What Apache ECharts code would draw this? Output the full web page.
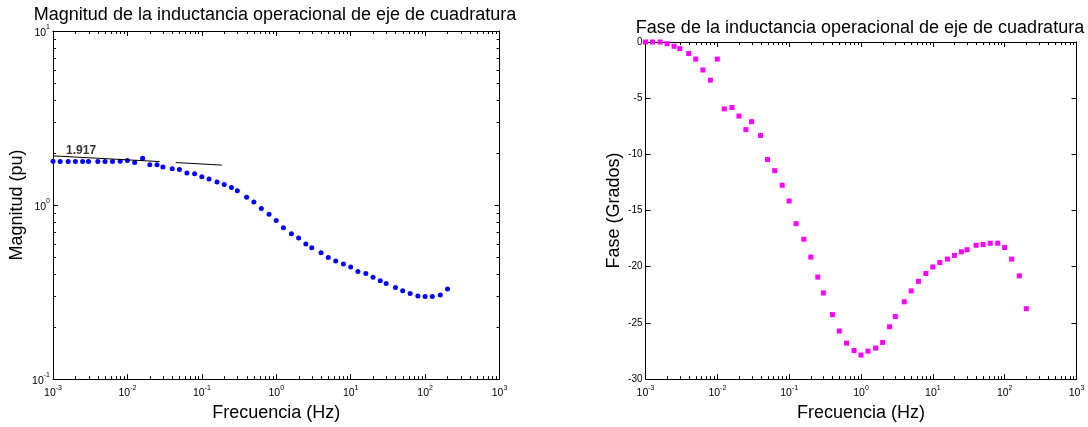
<!DOCTYPE html>
<html><head><meta charset="utf-8">
<script src="https://cdn.jsdelivr.net/npm/echarts@6/dist/echarts.min.js"></script>
<style>html,body{margin:0;padding:0;background:#fff}#c{width:1088px;height:427px}</style>
</head><body><div id="c"></div>
<script>
// ---- data ----
const freq = [0.001, 0.00125, 0.0016, 0.002, 0.0025, 0.003, 0.004, 0.005, 0.0063, 0.008,
  0.01, 0.0125, 0.016, 0.02, 0.025, 0.03, 0.04, 0.05, 0.063, 0.08,
  0.1, 0.125, 0.16, 0.2, 0.25, 0.3, 0.4, 0.5, 0.63, 0.8,
  1, 1.25, 1.6, 2, 2.5, 3, 4, 5, 6.3, 8,
  10, 12.5, 16, 20, 25, 30, 40, 50, 63, 80,
  100, 125, 160, 200];
const magnitude = [1.788, 1.778, 1.778, 1.778, 1.778, 1.778, 1.778, 1.778, 1.778, 1.788,
  1.802, 1.755, 1.859, 1.703, 1.703, 1.653, 1.616, 1.602, 1.528, 1.514,
  1.455, 1.413, 1.358, 1.311, 1.260, 1.207, 1.110, 1.040, 0.954, 0.886,
  0.815, 0.740, 0.684, 0.647, 0.598, 0.568, 0.532, 0.500, 0.477, 0.459,
  0.441, 0.415, 0.404, 0.385, 0.367, 0.354, 0.336, 0.322, 0.310, 0.300,
  0.298, 0.298, 0.304, 0.329];
const phase = [0, 0, 0, -0.15, -0.38, -0.59, -1.03, -1.52, -2.49, -3.40,
  -1.52, -5.95, -5.83, -6.59, -7.80, -7.09, -8.32, -10.46, -11.45, -12.75,
  -14.15, -16.17, -17.55, -19.14, -20.92, -22.33, -24.26, -25.72, -26.80, -27.45,
  -27.86, -27.51, -27.24, -26.74, -25.34, -24.43, -23.12, -22.15, -21.30, -20.60,
  -20.02, -19.63, -19.32, -18.99, -18.67, -18.49, -18.09, -18.02, -17.91, -17.91,
  -18.29, -19.32, -20.81, -23.73];
const refLine1F = [0.001, 0.0269];
const refLine1M = [1.917, 1.778];
const refLine2F = [0.0446, 0.185];
const refLine2M = [1.755, 1.696];
const annotText = '1.917';
const annotF = [0.0015];
const annotM = [2.05];
const leftTitle = 'Magnitud de la inductancia operacional de eje de cuadratura';
const rightTitle = 'Fase de la inductancia operacional de eje de cuadratura';
const xName = 'Frecuencia (Hz)';
const yNameLeft = 'Magnitud (pu)';
const yNameRight = 'Fase (Grados)';
const freqRange = [0.001, 1000];
const magRange = [0.1, 10];
const phaseRange = [-30, 0];
const phaseStep = 5;

// ---- helpers ----
const FONT = '"Liberation Sans", Arial, sans-serif';
function pow10Label(v) {
  const e = Math.round(Math.log10(v));
  return '{b|10}{s|' + e + '}';
}
const richSup = {
  b: {fontSize: 10.5, fontFamily: FONT, color: '#000', verticalAlign: 'bottom', lineHeight: 15},
  s: {fontSize: 7, fontFamily: FONT, color: '#000', verticalAlign: 'top', lineHeight: 15}
};
function minorList(lo, hi) {
  const out = [];
  for (let e = Math.round(Math.log10(lo)); e < Math.round(Math.log10(hi)); e++) {
    for (let k = 2; k <= 9; k++) out.push(k * Math.pow(10, e));
  }
  return out;
}
const pair = (a, b) => a.map((v, i) => [v, b[i]]);
const tickStyle = {stroke: '#000', lineWidth: 1};
const ML = 3;
function xMinorRender(params, api) {
  const cs = params.coordSys;
  const x = Math.round(api.coord([api.value(0), api.value(1)])[0]) + 0.5;
  const b = cs.y + cs.height, t = cs.y;
  return {type: 'group', children: [
    {type: 'line', shape: {x1: x, y1: b, x2: x, y2: b - ML}, style: tickStyle},
    {type: 'line', shape: {x1: x, y1: t, x2: x, y2: t + ML}, style: tickStyle}
  ]};
}
function yMinorRender(params, api) {
  const cs = params.coordSys;
  const y = Math.round(api.coord([api.value(0), api.value(1)])[1]) + 0.5;
  const l = cs.x, r = cs.x + cs.width;
  return {type: 'group', children: [
    {type: 'line', shape: {x1: l, y1: y, x2: l + ML, y2: y}, style: tickStyle},
    {type: 'line', shape: {x1: r, y1: y, x2: r - ML, y2: y}, style: tickStyle}
  ]};
}
const axisLineS = {show: true, onZero: false, lineStyle: {color: '#000', width: 1}};
const tickS = {show: true, inside: true, length: 5, lineStyle: {color: '#000', width: 1}};
const nameS = {fontSize: 18, fontFamily: FONT, color: '#000'};

function logX(grid, pos, showLabel) {
  return {
    gridIndex: grid, type: 'log', logBase: 10, min: freqRange[0], max: freqRange[1], splitNumber: 6,
    position: pos, axisLine: axisLineS, axisTick: tickS, splitLine: {show: false},
    axisLabel: showLabel ? {formatter: pow10Label, rich: richSup, margin: 5} : {show: false},
    name: showLabel ? xName : '', nameLocation: 'middle', nameGap: 24, nameTextStyle: nameS
  };
}

const chart = echarts.init(document.getElementById('c'), null, {renderer: 'canvas'});
chart.setOption({
  animation: false,
  backgroundColor: '#fff',
  grid: [
    {left: 53, top: 31, width: 446.5, height: 352},
    {left: 645.5, top: 42, width: 431, height: 341.3}
  ],
  graphic: [
    {type: 'text', x: 275, y: 15, silent: true,
     style: {text: leftTitle, fontSize: 18, fontFamily: FONT, fill: '#000', textAlign: 'center', textVerticalAlign: 'middle'}},
    {type: 'text', x: 860, y: 28, silent: true,
     style: {text: rightTitle, fontSize: 18, fontFamily: FONT, fill: '#000', textAlign: 'center', textVerticalAlign: 'middle'}}
  ],
  xAxis: [logX(0, 'bottom', true), logX(0, 'top', false), logX(1, 'bottom', true), logX(1, 'top', false)],
  yAxis: [
    {gridIndex: 0, type: 'log', logBase: 10, min: magRange[0], max: magRange[1], splitNumber: 2, position: 'left',
     axisLine: axisLineS, axisTick: tickS, splitLine: {show: false},
     axisLabel: {formatter: pow10Label, rich: richSup, margin: 3},
     name: yNameLeft, nameLocation: 'middle', nameGap: 27, nameRotate: 90, nameTextStyle: nameS},
    {gridIndex: 0, type: 'log', logBase: 10, min: magRange[0], max: magRange[1], splitNumber: 2, position: 'right',
     axisLine: axisLineS, axisTick: tickS, splitLine: {show: false}, axisLabel: {show: false}},
    {gridIndex: 1, type: 'value', min: phaseRange[0], max: phaseRange[1], interval: phaseStep, position: 'left',
     axisLine: axisLineS, axisTick: tickS, splitLine: {show: false},
     axisLabel: {fontSize: 10, fontFamily: FONT, color: '#000', margin: 3},
     name: yNameRight, nameLocation: 'middle', nameGap: 22, nameRotate: 90, nameTextStyle: nameS},
    {gridIndex: 1, type: 'value', min: phaseRange[0], max: phaseRange[1], interval: phaseStep, position: 'right',
     axisLine: axisLineS, axisTick: tickS, splitLine: {show: false}, axisLabel: {show: false}}
  ],
  series: [
    {type: 'custom', xAxisIndex: 0, yAxisIndex: 0, silent: true, renderItem: xMinorRender,
     data: minorList(freqRange[0], freqRange[1]).map(v => [v, 1]), encode: {x: 0, y: 1}},
    {type: 'custom', xAxisIndex: 0, yAxisIndex: 0, silent: true, renderItem: yMinorRender,
     data: minorList(magRange[0], magRange[1]).map(v => [1, v]), encode: {x: 0, y: 1}},
    {type: 'custom', xAxisIndex: 2, yAxisIndex: 2, silent: true, renderItem: xMinorRender,
     data: minorList(freqRange[0], freqRange[1]).map(v => [v, -15]), encode: {x: 0, y: 1}},
    {type: 'line', xAxisIndex: 0, yAxisIndex: 0, data: pair(refLine1F, refLine1M), symbol: 'none',
     lineStyle: {color: '#000', width: 1}, silent: true},
    {type: 'line', xAxisIndex: 0, yAxisIndex: 0, data: pair(refLine2F, refLine2M), symbol: 'none',
     lineStyle: {color: '#000', width: 1}, silent: true},
    {type: 'scatter', xAxisIndex: 0, yAxisIndex: 0, data: pair(freq, magnitude), symbol: 'circle', symbolSize: 5,
     itemStyle: {color: '#0000ff', opacity: 1}, silent: true},
    {type: 'scatter', xAxisIndex: 0, yAxisIndex: 0, data: pair(annotF, annotM), symbolSize: 0, silent: true,
     label: {show: true, formatter: annotText, position: 'right', distance: 0, fontSize: 12, fontWeight: 'bold',
       fontFamily: FONT, color: '#000', textBorderWidth: 0}},
    {type: 'scatter', xAxisIndex: 2, yAxisIndex: 2, data: pair(freq, phase), symbol: 'rect', symbolSize: 5,
     itemStyle: {color: '#ff00ff', opacity: 1}, silent: true}
  ]
});
</script></body></html>
